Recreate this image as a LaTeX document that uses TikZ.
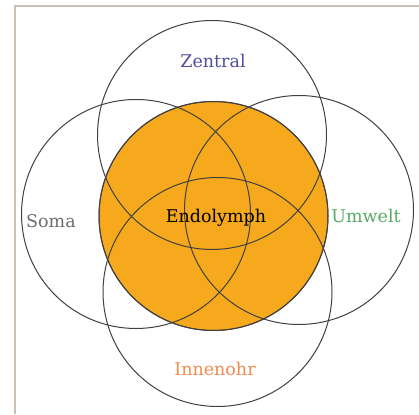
\documentclass[tikz,border=0pt]{standalone}
\usepackage{fontspec}
\setmainfont{DejaVu Serif}
\begin{document}
\begin{tikzpicture}[x=1pt,y=1pt,
  ring/.style={circle, draw=black!75, line width=1pt, minimum size=229pt, inner sep=0pt},
  core/.style={ring, fill=coreorange},
  lbl/.style={font=\fontsize{17.5}{19}\selectfont, inner sep=0pt}]
  \definecolor{coreorange}{RGB}{246,169,28}
  \definecolor{framecol}{RGB}{204,192,178}
  \useasboundingbox (0,0) rectangle (419,414);
  \fill[white] (0,0) rectangle (419,414);
  % frame
  \draw[framecol, line width=2pt] (14.5,0) -- (14.5,407.5) -- (419,407.5);
  % central set
  \node[core] (endo) at (213.5,198) {};
  % surrounding sets
  \node[ring] (zentral) at (212,279) {};
  \node[ring] (innen) at (217.5,122) {};
  \node[ring] (soma) at (136,200) {};
  \node[ring] (umwelt) at (299,204) {};
  \node[ring] at (endo) {};
  % labels
  \node[lbl, text=black] (lendo) at (216,196) {Endolymph};
  \node[lbl, text={rgb,255:red,80;green,78;blue,160}] (lzen) at (213,353) {Zentral};
  \node[lbl, text={rgb,255:red,110;green,110;blue,110}] (lsoma) at (51,193) {Soma};
  \node[lbl, text={rgb,255:red,88;green,170;blue,104}] (lumw) at (366,198) {Umwelt};
  \node[lbl, text={rgb,255:red,240;green,140;blue,80}] (linn) at (215,45) {Innenohr};
\end{tikzpicture}
\end{document}
